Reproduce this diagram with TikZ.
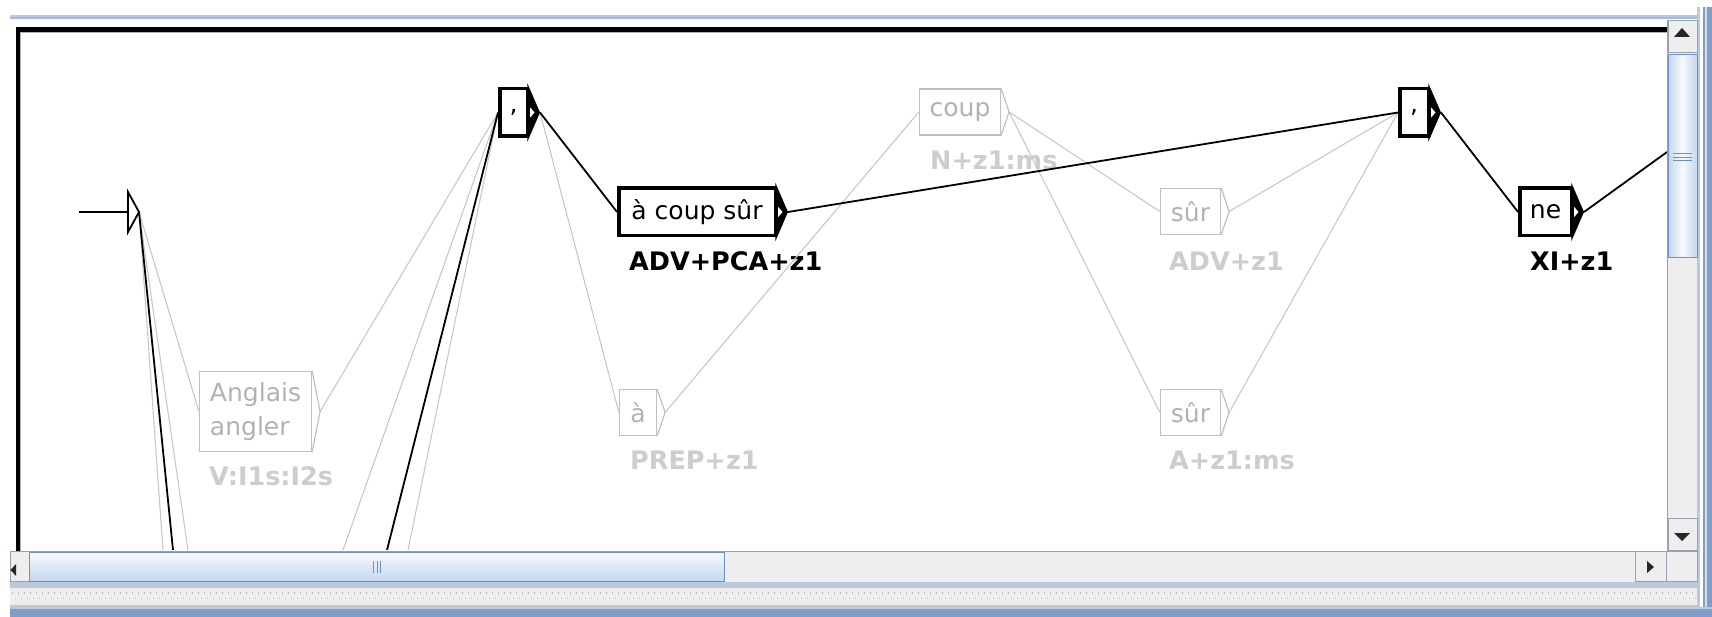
\documentclass[tikz,border=0pt]{standalone}
\usepackage{fontspec}
\setmainfont{DejaVu Sans}
\usetikzlibrary{calc}

\definecolor{ltgray}{RGB}{200,200,200}
\definecolor{boxgray}{RGB}{192,192,192}
\definecolor{txtgray}{RGB}{178,178,178}
\definecolor{lblgray}{RGB}{205,205,205}
\definecolor{barbg}{RGB}{238,238,238}
\definecolor{barline}{RGB}{150,160,175}
\definecolor{thumbedge}{RGB}{112,144,196}
\definecolor{thumbtop}{RGB}{247,250,253}
\definecolor{thumbbot}{RGB}{196,214,237}
\definecolor{winblue}{RGB}{128,156,200}
\definecolor{paleblue}{RGB}{184,202,226}

\pgfdeclarelayer{back}
\pgfdeclarelayer{labels}
\pgfdeclarelayer{edges}
\pgfsetlayers{back,labels,edges,main}

\tikzset{
  selbox/.style={draw=black, line width=3.5pt, fill=white, minimum height=47.5pt,
    inner sep=0pt, font=\fontsize{25}{30}\selectfont},
  dimbox/.style={draw=boxgray, line width=1.2pt, fill=white, text=txtgray,
    minimum height=46pt, inner sep=0pt, font=\fontsize{25}{30}\selectfont},
  sellabel/.style={anchor=west, inner sep=0pt, font=\bfseries\fontsize{25.5}{28}\selectfont},
  dimlabel/.style={sellabel, text=lblgray},
  selpath/.style={draw=black, line width=1.8pt},
  dimpath/.style={draw=ltgray, line width=1.1pt},
  barbutton/.style={fill=barbg, draw=barline, line width=0.8pt},
  arrowglyph/.style={fill=black!85},
}

% output wedge of a selected box, with its exit point
\newcommand\selout[2]{%
  \fill[black] ($(#1.north east)+(-1.75,-4)$) -- ($(#1.east)+(11,0)$) -- ($(#1.south east)+(-1.75,4)$) -- cycle;
  \fill[white] ($(#1.east)+(1.2,-5)$) -- ($(#1.east)+(5.5,0)$) -- ($(#1.east)+(1.2,5)$) -- cycle;
  \coordinate (#2) at ($(#1.east)+(11,0)$);}
% output chevron of an inactive box, with its exit point
\newcommand\dimout[2]{%
  \draw[draw=boxgray, line width=1.2pt] (#1.north east) -- ($(#1.east)+(8,0)$) -- (#1.south east);
  \coordinate (#2) at ($(#1.east)+(8,0)$);}

\begin{document}
\begin{tikzpicture}[x=1pt, y=-1pt]
\useasboundingbox (0,0) rectangle (1712,617);
\begin{pgfonlayer}{back}
\fill[white] (0,0) rectangle (1712,617);
\end{pgfonlayer}

% ---------- window frame ----------
\fill[paleblue] (10,15) rectangle (1697,19.5);
\fill[winblue!70] (10,17) rectangle (1697,19.5);
\fill[paleblue] (1697,7) rectangle (1700,617);
\fill[winblue] (1703,7) rectangle (1712,617);
\fill[paleblue!60] (1705,7) rectangle (1707,617);

% ---------- viewport border ----------
\fill[black] (16,27) rectangle (1667,32);
\fill[black] (16,27) rectangle (20,551);
\draw[gray!60, line width=0.8pt] (20.5,32.5) -- (1667,32.5);
\draw[gray!60, line width=0.8pt] (20.5,32.5) -- (20.5,551);

% ---------- boxes ----------
\node[selbox, minimum width=27.5pt] (comma1) at (513.5,112.5) {,};
\node[selbox, minimum width=156.5pt] (acs) at (697,212) {à coup sûr};
\node[selbox, minimum width=28.5pt] (comma2) at (1414,112.5) {,};
\node[selbox, minimum width=51.5pt] (ne) at (1545.5,212) {ne};
\node[dimbox, minimum width=81pt] (coup) at (960,112) {coup};
\node[dimbox, minimum width=60pt] (surA) at (1190.5,211.5) {sûr};
\node[dimbox, minimum width=60pt] (surB) at (1190.5,412.5) {sûr};
\node[dimbox, minimum width=37pt] (prep) at (638,412.5) {à};
\node[dimbox, minimum width=112pt, minimum height=80pt, align=left,
      font=\fontsize{25}{34}\selectfont] (angl) at (255.5,411.5) {Anglais\\angler};

\selout{comma1}{comma1o}
\selout{acs}{acso}
\selout{comma2}{comma2o}
\selout{ne}{neo}
\dimout{coup}{coupo}
\dimout{surA}{surAo}
\dimout{surB}{surBo}
\dimout{prep}{prepo}
\dimout{angl}{anglo}

% initial state
\coordinate (entry) at (79,212);
\coordinate (init) at (128,212);
\coordinate (inito) at (139,212);
\draw[line width=1.8pt, line join=miter] (128,192) -- (inito) -- (128,232) -- cycle;
\draw[selpath] (entry) -- (init);

% ---------- labels ----------
\begin{pgfonlayer}{labels}
\node[sellabel] (lacs) at (629,261) {ADV+PCA+z1};
\node[sellabel] (lne) at (1530,261) {XI+z1};
\node[dimlabel] (lcoup) at (930,160) {N+z1:ms};
\node[dimlabel] (lsurA) at (1169,261) {ADV+z1};
\node[dimlabel] (lsurB) at (1169,460) {A+z1:ms};
\node[dimlabel] (lprep) at (630,460) {PREP+z1};
\node[dimlabel] (langl) at (209,476) {V:I1s:I2s};
\end{pgfonlayer}

% ---------- transitions ----------
\coordinate (d1) at (163,550);
\coordinate (d2) at (173,550);
\coordinate (d3) at (188,550);
\coordinate (u1) at (343,550);
\coordinate (u2) at (387,550);
\coordinate (u3) at (408,550);
\coordinate (r1) at (1667,152);
\begin{pgfonlayer}{edges}
\draw[dimpath] (inito) -- (d1);
\draw[dimpath] (inito) -- (d3);
\draw[dimpath] (inito) -- (angl.west);
\draw[dimpath] (anglo) -- (comma1.west);
\draw[dimpath] (u1) -- (comma1.west);
\draw[dimpath] (u3) -- (comma1.west);
\draw[dimpath] (comma1o) -- (prep.west);
\draw[dimpath] (prepo) -- (coup.west);
\draw[dimpath] (coupo) -- (surA.west);
\draw[dimpath] (coupo) -- (surB.west);
\draw[dimpath] (surAo) -- (comma2.west);
\draw[dimpath] (surBo) -- (comma2.west);
\draw[selpath] (inito) -- (d2);
\draw[selpath] (u2) -- (comma1.west);
\draw[selpath] (comma1o) -- (acs.west);
\draw[selpath] (acso) -- (comma2.west);
\draw[selpath] (comma2o) -- (ne.west);
\draw[selpath] (neo) -- (r1);
\end{pgfonlayer}

% ---------- vertical scroll bar ----------
\fill[barbg] (1667,20) rectangle (1697,551);
\draw[barline, line width=0.8pt] (1667.4,20) -- (1667.4,551);
\draw[barbutton] (1668,20.5) rectangle (1697,52);
\fill[arrowglyph] (1682,28) -- (1690,37) -- (1674,37) -- cycle;
\shade[left color=thumbbot, right color=thumbbot, middle color=thumbtop] (1668,55) rectangle (1697,258);
\draw[thumbedge, line width=1pt] (1668,55) rectangle (1697,258);
\foreach \yy in {153.5,157,160.5}
  \draw[thumbedge, line width=0.9pt] (1673,\yy) -- (1692,\yy);
\draw[barbutton] (1668,518) rectangle (1697,550);
\fill[arrowglyph] (1674,533) -- (1690,533) -- (1682,541) -- cycle;

% ---------- horizontal scroll bar ----------
\fill[barbg] (10,551) rectangle (1697,582);
\draw[barline, line width=0.8pt] (10,551.4) -- (1666,551.4);
\draw[barbutton] (10,551.5) rectangle (29,581);
\fill[arrowglyph] (10.5,570) -- (16,564) -- (16,576) -- cycle;
\shade[top color=thumbtop, bottom color=thumbbot] (29,552) rectangle (724,581);
\draw[thumbedge, line width=1pt] (29,552) rectangle (724,581);
\foreach \xx in {373.5,377,380.5}
  \draw[thumbedge, line width=0.9pt] (\xx,561) -- (\xx,573);
\draw[barbutton] (1635,551.5) rectangle (1666,581);
\fill[arrowglyph] (1647,561) -- (1654,567) -- (1647,573) -- cycle;
\draw[barbutton] (1666,551.5) rectangle (1697,581);

% ---------- status strip ----------
\fill[paleblue] (10,582) rectangle (1697,585.5);
\fill[gray!45] (10,585.5) rectangle (1697,587.5);
\fill[barbg] (10,587.5) rectangle (1697,605);
\draw[gray!55, line width=1.1pt, dash pattern=on 1.2pt off 4.8pt] (12,593) -- (1697,593);
\draw[gray!55, line width=1.1pt, dash pattern=on 1.2pt off 4.8pt, dash phase=3pt] (12,598.5) -- (1697,598.5);
\fill[gray!45] (10,605) rectangle (1697,607);
\fill[winblue] (10,609) rectangle (1712,617);
\fill[paleblue] (10,607) rectangle (1712,609);
\end{tikzpicture}
\end{document}
